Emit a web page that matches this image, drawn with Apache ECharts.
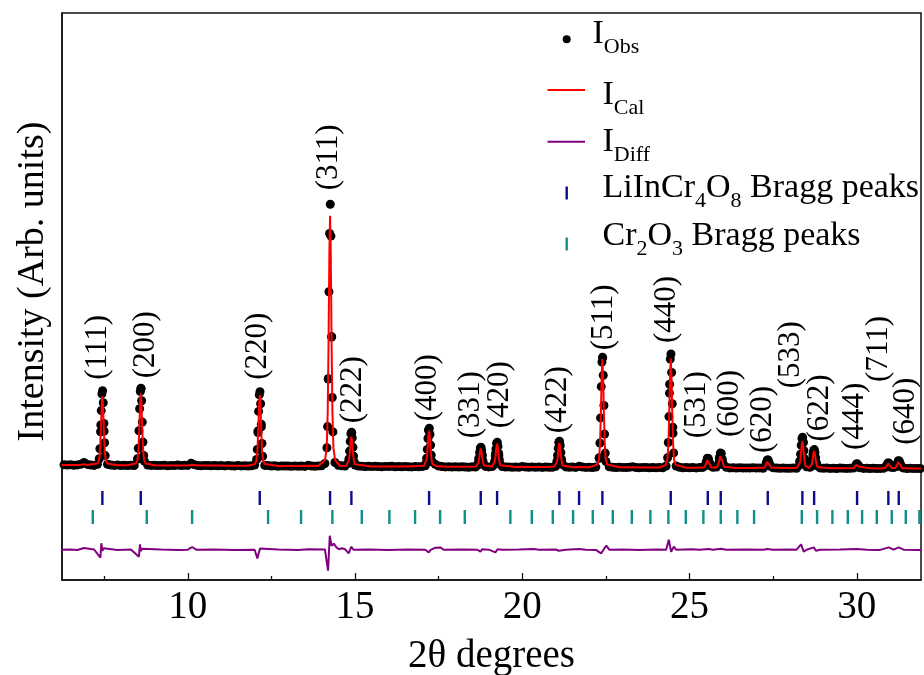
<!DOCTYPE html>
<html>
<head>
<meta charset="utf-8">
<script src="https://cdn.jsdelivr.net/npm/echarts@6/dist/echarts.min.js"></script>
<style>
  html, body { margin: 0; padding: 0; background: #fff; }
  #chart { width: 924px; height: 675px; }
</style>
</head>
<body>
<div id="chart"></div>
<script>
// ---- 2θ axis ticks ----
const majorTicks = [10, 15, 20, 25, 30];
const minorTicks = [7.5, 12.5, 17.5, 22.5, 27.5];

// ---- Observed intensity, coarse scan: 0.1° steps starting at 6.3° ----
const obsStart = 6.3;
const obsStep = 0.1;
const obsCoarse = [
  1152, 1149, 1153, 1148, 1151, 1158, 1175,
  1156, 1149, 1146, 1157, 1551, 1489, 1158, 1150, 1146, 1149,
  1145, 1148, 1144, 1147, 1145, 1209, 1912, 1190, 1149, 1146,
  1147, 1144, 1146, 1148, 1143, 1146, 1145, 1149, 1144, 1147,
  1146, 1168, 1152, 1145, 1143, 1146, 1144, 1142, 1145, 1143,
  1144, 1141, 1145, 1142, 1140, 1144, 1141, 1143, 1139, 1142,
  1149, 1491, 1533, 1146, 1145, 1140, 1142, 1138, 1141, 1139,
  1140, 1137, 1141, 1138, 1140, 1136, 1147, 1139, 1137, 1141,
  1143, 1165, 2012, 2430, 1175, 1148, 1142, 1140, 1170, 1469,
  1149, 1140, 1137, 1135, 1138, 1134, 1137, 1135, 1133, 1136,
  1134, 1137, 1133, 1135, 1132, 1136, 1133, 1131, 1134, 1132,
  1135, 1143, 1497, 1182, 1158, 1140, 1134, 1131, 1133, 1130,
  1132, 1129, 1133, 1130, 1128, 1132, 1130, 1212, 1254, 1136,
  1131, 1134, 1264, 1243, 1135, 1129, 1131, 1128, 1130, 1127,
  1135, 1130, 1128, 1131, 1127, 1129, 1126, 1130, 1128, 1127,
  1138, 1381, 1154, 1131, 1127, 1129, 1126, 1138, 1129, 1126,
  1128, 1125, 1129, 1217, 2219, 1185, 1133, 1127, 1125, 1128,
  1126, 1124, 1127, 1132, 1125, 1123, 1126, 1124, 1122, 1125,
  1123, 1126, 1122, 1140, 1869, 1528, 1140, 1127, 1123, 1125,
  1122, 1125, 1121, 1124, 1126, 1178, 1167, 1127, 1129, 1231,
  1167, 1128, 1121, 1123, 1120, 1122, 1119, 1121, 1120, 1122,
  1119, 1121, 1118, 1172, 1148, 1122, 1119, 1117, 1120, 1118,
  1117, 1120, 1118, 1187, 1375, 1132, 1128, 1274, 1157, 1121,
  1117, 1119, 1116, 1118, 1115, 1119, 1117, 1116, 1118, 1120,
  1161, 1122, 1116, 1118, 1115, 1117, 1114, 1116, 1118, 1148,
  1139, 1124, 1155, 1160, 1120, 1115, 1117, 1114, 1116, 1115
];

// ---- Observed intensity, fine scan across the reflections: [2θ, I] ----
const obsFine = [
  [7.353,1212],[7.373,1312],[7.393,1483],[7.413,1694],[7.433,1861],[7.453,1893],[7.473,1772],[7.493,1566],[7.513,1372],[7.533,1244],
  [8.501,1213],[8.521,1317],[8.541,1493],[8.561,1712],[8.581,1884],[8.601,1917],[8.621,1792],[8.641,1579],[8.661,1379],[8.681,1246],
  [12.058,1206],[12.078,1305],[12.098,1475],[12.118,1686],[12.138,1851],[12.158,1883],[12.178,1763],[12.198,1558],[12.218,1365],[12.238,1237],
  [14.160,1322],[14.180,1534],[14.200,2010],[14.220,2883],[14.240,3465],[14.260,3757],[14.280,3439],[14.300,2434],[14.320,1825],[14.340,1481],
  [14.797,1166],[14.817,1211],[14.837,1289],[14.857,1386],[14.877,1462],[14.897,1477],[14.917,1421],[14.937,1327],[14.957,1239],[14.977,1180],
  [17.120,1166],[17.140,1218],[17.160,1306],[17.180,1415],[17.200,1500],[17.220,1517],[17.240,1455],[17.260,1349],[17.280,1249],[17.300,1183],
  [18.665,1148],[18.685,1174],[18.705,1219],[18.725,1275],[18.745,1319],[18.765,1327],[18.785,1295],[18.805,1241],[18.825,1190],[18.845,1156],
  [19.153,1151],[19.173,1185],[19.193,1241],[19.213,1311],[19.233,1366],[19.253,1377],[19.273,1336],[19.293,1268],[19.313,1204],[19.333,1162],
  [21.015,1151],[21.035,1185],[21.055,1245],[21.075,1318],[21.095,1376],[21.115,1387],[21.135,1345],[21.155,1274],[21.175,1206],[21.195,1162],
  [22.301,1223],[22.321,1370],[22.341,1621],[22.361,1934],[22.381,2179],[22.401,2227],[22.421,2048],[22.441,1745],[22.461,1459],[22.481,1269],
  [24.345,1223],[24.365,1375],[24.385,1634],[24.405,1957],[24.425,2210],[24.445,2260],[24.465,2075],[24.485,1762],[24.505,1467],[24.525,1271],
  [25.472,1144],[25.502,1180],[25.532,1217],[25.562,1215],[25.592,1178],[25.622,1142],
  [25.860,1156],[25.890,1213],[25.920,1269],[25.950,1266],[25.980,1208],[26.010,1153],
  [27.265,1139],[27.295,1170],[27.325,1200],[27.355,1199],[27.385,1167],[27.415,1137],
  [28.280,1146],[28.300,1187],[28.320,1258],[28.340,1346],[28.360,1414],[28.380,1428],[28.400,1378],[28.420,1292],[28.440,1212],[28.460,1159],
  [28.631,1134],[28.651,1159],[28.671,1202],[28.691,1254],[28.711,1296],[28.731,1304],[28.751,1274],[28.771,1223],[28.791,1174],[28.811,1142],
  [29.935,1127],[29.965,1143],[29.995,1160],[30.025,1159],[30.055,1142],[30.085,1126],
  [30.870,1129],[30.900,1150],[30.930,1171],[30.960,1170],[30.990,1148],[31.020,1128],
  [31.181,1134],[31.211,1163],[31.241,1192],[31.271,1190],[31.301,1160],[31.331,1132]
];

// ---- Calculated (refined) profile: [2θ, I] ----
const calcPattern = [
  [6.24,1150],[6.6,1149],[6.8,1151],[6.89,1158],[7.0,1150],
  [7.297,1164],[7.347,1198],[7.377,1299],[7.402,1494],[7.427,1744],[7.447,1840],[7.467,1744],[7.492,1494],[7.517,1299],[7.547,1198],[7.597,1164],
  [7.9,1148],[8.2,1147],
  [8.445,1164],[8.495,1199],[8.525,1304],[8.550,1507],[8.575,1767],[8.595,1867],[8.615,1767],[8.640,1507],[8.665,1304],[8.695,1199],[8.745,1164],
  [9.0,1147],[9.5,1146],[10.0,1146],[10.13,1152],[10.3,1145],[10.8,1144],[11.3,1143],[11.8,1142],
  [12.002,1159],[12.052,1193],[12.082,1296],[12.107,1496],[12.132,1751],[12.152,1850],[12.172,1751],[12.197,1496],[12.222,1296],[12.252,1193],[12.302,1159],
  [12.7,1140],[13.2,1139],[13.6,1142],[13.9,1139],
  [14.104,1200],[14.154,1320],[14.184,1686],[14.209,2390],[14.234,3295],[14.254,3643],[14.274,3295],[14.299,2390],[14.324,1686],[14.354,1320],[14.404,1200],
  [14.55,1140],
  [14.741,1143],[14.791,1158],[14.821,1201],[14.846,1285],[14.871,1392],[14.891,1433],[14.911,1392],[14.936,1285],[14.961,1201],[14.991,1158],[15.041,1143],
  [15.5,1136],[16.0,1135],[16.5,1134],
  [17.064,1142],[17.114,1159],[17.144,1211],[17.169,1312],[17.194,1440],[17.214,1490],[17.234,1440],[17.259,1312],[17.284,1211],[17.314,1159],[17.364,1142],
  [17.45,1137],[17.8,1133],[18.2,1132],
  [18.609,1136],[18.659,1144],[18.689,1171],[18.714,1223],[18.739,1289],[18.759,1315],[18.779,1289],[18.804,1223],[18.829,1171],[18.859,1144],[18.909,1136],
  [19.097,1136],[19.147,1147],[19.177,1181],[19.202,1246],[19.227,1330],[19.247,1362],[19.267,1330],[19.292,1246],[19.317,1181],[19.347,1147],[19.397,1136],
  [19.8,1130],[20.0,1132],[20.3,1129],[20.7,1129],
  [20.959,1134],[21.009,1146],[21.039,1181],[21.064,1249],[21.089,1336],[21.109,1370],[21.129,1336],[21.154,1249],[21.179,1181],[21.209,1146],[21.259,1134],
  [21.5,1128],[21.7,1131],[22.0,1127],
  [22.245,1154],[22.295,1206],[22.325,1364],[22.350,1669],[22.375,2059],[22.395,2210],[22.415,2059],[22.440,1669],[22.465,1364],[22.495,1206],[22.545,1154],
  [22.9,1127],[23.3,1127],[23.8,1125],[24.1,1124],
  [24.289,1151],[24.339,1204],[24.369,1363],[24.394,1670],[24.419,2063],[24.439,2215],[24.459,2063],[24.484,1670],[24.509,1363],[24.539,1204],[24.589,1151],
  [24.9,1123],[25.2,1122],
  [25.446,1128],[25.501,1166],[25.526,1198],[25.546,1210],[25.566,1198],[25.591,1166],[25.646,1128],
  [25.75,1123],
  [25.834,1132],[25.889,1190],[25.914,1239],[25.934,1258],[25.954,1239],[25.979,1190],[26.034,1132],
  [26.4,1121],[26.9,1120],
  [27.239,1125],[27.294,1156],[27.319,1182],[27.339,1192],[27.359,1182],[27.384,1156],[27.439,1125],
  [27.8,1119],[28.1,1119],
  [28.224,1126],[28.274,1138],[28.304,1177],[28.329,1252],[28.354,1348],[28.374,1385],[28.394,1348],[28.419,1252],[28.444,1177],[28.474,1138],[28.524,1126],
  [28.575,1122],[28.625,1131],[28.655,1156],[28.680,1204],[28.705,1266],[28.725,1290],[28.745,1266],[28.770,1204],[28.795,1156],[28.825,1131],[28.875,1122],
  [29.2,1118],[29.6,1117],
  [29.909,1120],[29.964,1136],[29.989,1150],[30.009,1155],[30.029,1150],[30.054,1136],[30.109,1120],
  [30.4,1117],[30.7,1116],
  [30.844,1120],[30.899,1141],[30.924,1158],[30.944,1165],[30.964,1158],[30.989,1141],[31.044,1120],
  [31.155,1121],[31.210,1152],[31.235,1178],[31.255,1188],[31.275,1178],[31.300,1152],[31.355,1121],
  [31.6,1116],[31.92,1115]
];

// ---- Difference curve, I(obs) - I(cal): [2θ, ΔI] ----
const diffPattern = [
  [6.24,0],[6.5,3],[6.7,-3],[6.891,17],[6.95,0],[7.2,2],
  [7.387,-80],[7.417,65],[7.45,-12],[7.49,15],[7.53,0],[7.9,-3],[8.3,3],
  [8.54,-70],[8.57,53],[8.60,-15],[8.63,10],[8.68,0],[9.2,2],[9.7,-3],[10.0,0],
  [10.13,27],[10.25,0],[10.8,2],[11.4,-2],[12.0,0],
  [12.08,-87],[12.12,-35],[12.16,13],[12.21,0],[12.7,3],[13.3,-2],[13.6,5],[14.1,2],
  [14.194,-210],[14.245,140],[14.30,40],[14.365,60],[14.45,20],[14.52,5],[14.61,15],[14.70,5],
  [14.81,-37],[14.89,30],[14.95,0],[15.4,3],[16.0,-2],[16.6,3],[17.1,0],
  [17.205,-27],[17.25,-5],[17.30,8],[17.40,20],[17.55,23],[17.65,0],[18.2,3],[18.65,0],
  [18.75,-20],[18.80,5],[19.0,0],[19.196,-27],[19.26,5],[19.4,0],[19.9,3],[20.34,8],[20.5,0],
  [21.0,2],[21.09,-10],[21.13,10],[21.3,0],[21.69,8],[21.9,0],[22.2,-2],
  [22.356,-37],[22.44,5],[22.514,40],[22.6,0],[23.0,3],[23.5,-2],[24.0,2],[24.3,0],
  [24.38,100],[24.45,-20],[24.53,30],[24.6,0],[25.08,5],[25.3,0],[25.575,8],[25.7,0],
  [25.94,10],[26.1,0],[26.7,2],[27.2,0],[27.32,8],[27.5,0],[28.0,2],[28.2,0],
  [28.335,53],[28.415,-20],[28.5,0],[28.714,23],[28.78,-10],[28.9,0],[29.5,2],
  [30.009,8],[30.3,0],[30.7,-2],[30.957,23],[31.1,0],[31.255,23],[31.4,0],[31.92,-2]
];

// ---- Bragg reflection positions (2θ) ----
const liInCrBragg = [7.447, 8.595, 12.152, 14.254, 14.891, 17.214, 18.759, 19.247, 21.109, 21.698,
  22.395, 24.439, 25.546, 25.934, 27.339, 28.374, 28.725, 30.009, 30.944, 31.255];
const hklNames = ['(111)', '(200)', '(220)', '(311)', '(222)', '(400)', '(331)', '(420)', '(422)', '',
  '(511)', '(440)', '(531)', '(600)', '(620)', '(533)', '(622)', '(444)', '(711)', '(640)'];
const cr2o3Bragg = [7.160, 8.774, 10.129, 12.401, 13.387, 14.323, 15.202, 16.027, 16.795, 17.543,
  18.281, 19.644, 20.284, 20.912, 21.519, 22.108, 22.706, 23.274, 23.830, 24.368, 24.888, 25.414,
  25.934, 26.430, 26.930, 28.356, 28.813, 29.271, 29.731, 30.159, 30.598, 31.046, 31.465, 31.871];

// ---- layout / styling ----
const FONT = '"Liberation Serif", "Times New Roman", serif';
const RED = '#ff0000';
const PURPLE = '#800080';
const NAVY = '#0d0d8c';
const TEAL = '#10908a';
const DIFF_OFFSET = 303;       // baseline of the difference curve
const TICK_ROW_A = 820;        // LiInCr4O8 tick row
const TICK_ROW_B = 630;        // Cr2O3 tick row
// label placement per reflection: [horizontal shift px, gap above peak px]
const labelNudge = [[-5, 11], [5, 10], [-2, 12], [-1, 14], [1, 9], [-1, 7], [-10, 9], [3, 14], [-2, 8], [0, 0],
  [1, 7], [-4, 11], [-11, 20], [9, 16], [-5, 7], [-12, 49], [6, 8], [-2, 14], [-9, 81], [7, 16]];

// ---- series data ----
const obsData = obsCoarse.map((v, i) => [+(obsStart + i * obsStep).toFixed(2), v]).concat(obsFine);
const diffData = diffPattern.map(p => [p[0], p[1] + DIFF_OFFSET]);
const braggA = liInCrBragg.map(t => [t, TICK_ROW_A]);
const braggB = cr2o3Bragg.map(t => [t, TICK_ROW_B]);

// each label sits above the highest observed point of its reflection
const labelData = [];
liInCrBragg.forEach((t, i) => {
  if (!hklNames[i]) return;
  let top = 0;
  obsData.forEach(p => { if (Math.abs(p[0] - t) < 0.1 && p[1] > top) top = p[1]; });
  labelData.push({
    value: [t, top],
    name: hklNames[i],
    label: { position: [labelNudge[i][0] + 0.5, -labelNudge[i][1] + 0.5] }
  });
});

const chart = echarts.init(document.getElementById('chart'), null, { renderer: 'canvas' });

const legendRich = {
  m: { fontSize: 34, fontFamily: FONT, lineHeight: 34, verticalAlign: 'top', fill: '#000', color: '#000' },
  s: { fontSize: 22, fontFamily: FONT, lineHeight: 22, padding: [19, 0, 0, 0], verticalAlign: 'top', fill: '#000', color: '#000' }
};
function legendText(x, y, text) {
  return { type: 'text', x: x, y: y, silent: true,
    style: { text: text, rich: legendRich, verticalAlign: 'top', align: 'left', fontFamily: FONT, fontSize: 34, fill: '#000' } };
}

chart.setOption({
  animation: false,
  backgroundColor: '#fff',
  grid: {
    left: 62, right: 3, top: 13, bottom: 95, containLabel: false, outerBoundsMode: 'none',
    show: true, borderColor: '#111', borderWidth: 1.5, backgroundColor: 'transparent'
  },
  xAxis: [{
    type: 'value', min: 6.24, max: 31.92,
    name: '2θ degrees', nameLocation: 'middle', nameGap: 57,
    nameTextStyle: { fontFamily: FONT, fontSize: 39, color: '#000' },
    axisLine: { show: true, lineStyle: { color: '#111', width: 1.5 } },
    axisTick: { show: true, inside: true, length: 7, customValues: majorTicks, lineStyle: { color: '#111', width: 1.3 } },
    axisLabel: { show: true, customValues: majorTicks, margin: 8, fontFamily: FONT, fontSize: 39, color: '#000' },
    splitLine: { show: false }
  }, {
    type: 'value', min: 6.24, max: 31.92, position: 'bottom',
    axisLine: { show: false },
    axisTick: { show: true, inside: true, length: 4, customValues: minorTicks, lineStyle: { color: '#111', width: 1.3 } },
    axisLabel: { show: false },
    splitLine: { show: false }
  }],
  yAxis: {
    type: 'value', min: 0, max: 5670,
    name: 'Intensity (Arb. units)', nameLocation: 'middle', nameGap: 10,
    nameTextStyle: { fontFamily: FONT, fontSize: 38, color: '#000', padding: [0, 0, 0, 30] },
    axisLine: { show: true, lineStyle: { color: '#111', width: 1.5 } },
    axisTick: { show: false }, axisLabel: { show: false }, splitLine: { show: false }
  },
  series: [
    {
      name: 'I Obs', type: 'scatter', data: obsData, symbol: 'circle', symbolSize: 9,
      itemStyle: { color: '#000', opacity: 1 }, z: 2, silent: true
    },
    {
      name: 'I Cal', type: 'line', data: calcPattern, symbol: 'none',
      lineStyle: { color: RED, width: 2 }, z: 4, silent: true
    },
    {
      name: 'I Diff', type: 'line', data: diffData, symbol: 'none',
      lineStyle: { color: PURPLE, width: 2 }, z: 4, silent: true
    },
    {
      name: 'LiInCr4O8 Bragg peaks', type: 'scatter', data: braggA, symbol: 'rect', symbolSize: [2.4, 14],
      itemStyle: { color: NAVY, opacity: 1 }, z: 3, silent: true
    },
    {
      name: 'Cr2O3 Bragg peaks', type: 'scatter', data: braggB, symbol: 'rect', symbolSize: [2.4, 14],
      itemStyle: { color: TEAL, opacity: 1 }, z: 3, silent: true
    },
    {
      name: 'hkl', type: 'scatter', data: labelData, symbol: 'circle', symbolSize: 1,
      itemStyle: { color: 'rgba(0,0,0,0)', opacity: 1 }, z: 5, silent: true,
      label: {
        show: true, formatter: '{b}', rotate: 90, align: 'left', verticalAlign: 'middle',
        fontFamily: FONT, fontSize: 31, color: '#000', opacity: 1
      }
    }
  ],
  graphic: { elements: [
    { type: 'circle', silent: true, shape: { cx: 566.7, cy: 39.3, r: 4 }, style: { fill: '#000' } },
    { type: 'line', silent: true, shape: { x1: 547.5, y1: 90, x2: 585, y2: 90 }, style: { stroke: RED, lineWidth: 2 } },
    { type: 'line', silent: true, shape: { x1: 547.5, y1: 141.7, x2: 585, y2: 141.7 }, style: { stroke: PURPLE, lineWidth: 2 } },
    { type: 'rect', silent: true, shape: { x: 565.5, y: 186.5, width: 2.4, height: 13 }, style: { fill: NAVY } },
    { type: 'rect', silent: true, shape: { x: 565.5, y: 237.5, width: 2.4, height: 13 }, style: { fill: TEAL } },
    legendText(592.5, 17.5, '{m|I}{s|Obs}'),
    legendText(602.5, 78.2, '{m|I}{s|Cal}'),
    legendText(602.5, 124.8, '{m|I}{s|Diff}'),
    legendText(602.5, 171.5, '{m|LiInCr}{s|4}{m|O}{s|8}{m| Bragg peaks}'),
    legendText(602.5, 219.2, '{m|Cr}{s|2}{m|O}{s|3}{m| Bragg peaks}')
  ] }
});
</script>
</body>
</html>
